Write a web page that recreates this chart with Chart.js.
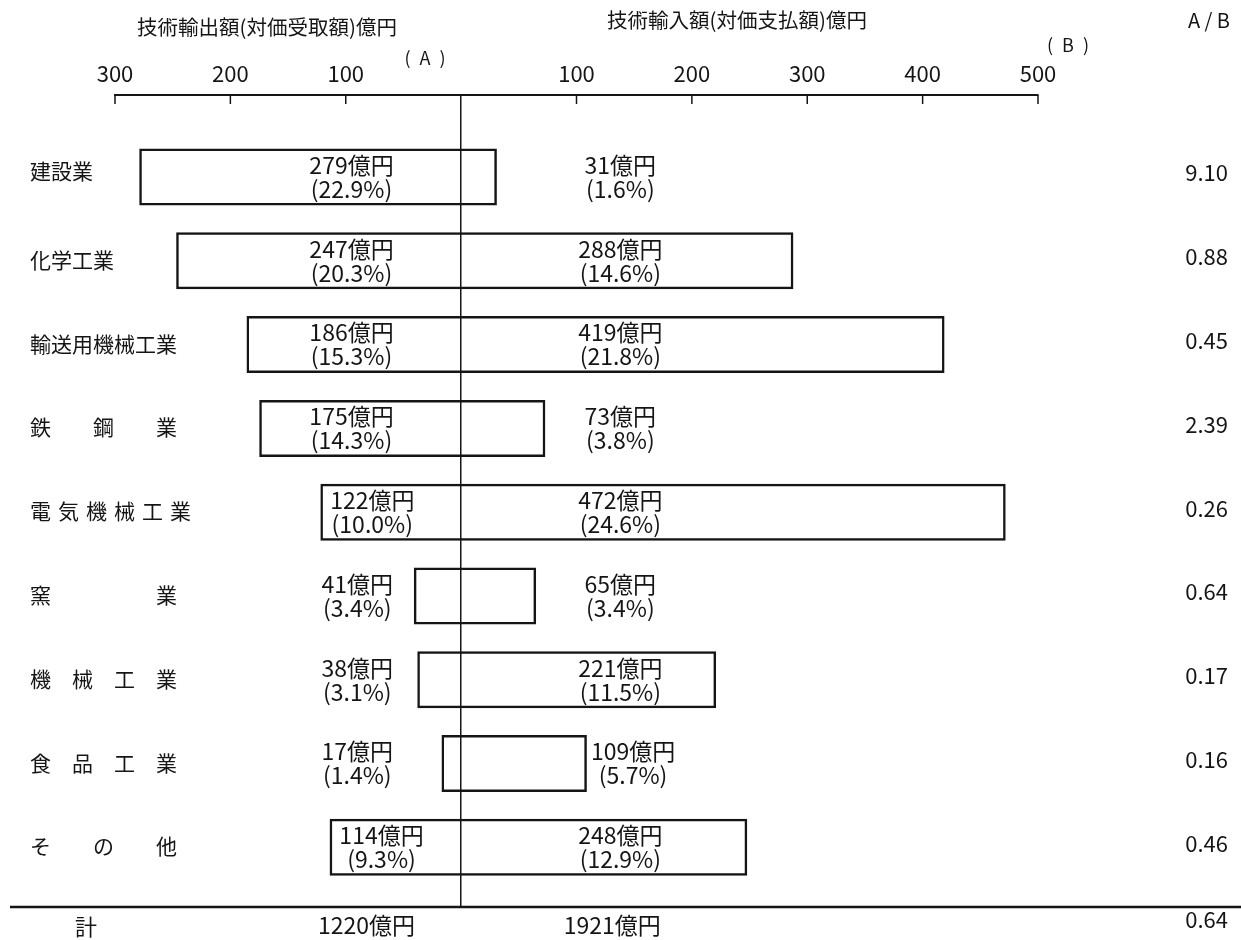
<!DOCTYPE html>
<html><head><meta charset="utf-8">
<script src="https://cdn.jsdelivr.net/npm/chart.js@4.4.0/dist/chart.umd.min.js"></script>
<style>html,body{margin:0;padding:0;background:#fff}#wrap{width:1241px;height:940px;position:relative}canvas{display:block}</style>
</head><body><div id="wrap"><canvas id="c" width="1241" height="940" style="width:1241px;height:940px"></canvas></div>
<script>
const categories = ['建設業','化学工業','輸送用機械工業','鉄　　鋼　　業','電\u2004気\u2004機\u2004械\u2004工\u2004業','窯　　　　　業','機　械　工　業','食　品　工　業','そ　　の　　他'];
const exportValues = [279, 247, 186, 175, 122, 41, 38, 17, 114];
const exportShares = ['22.9', '20.3', '15.3', '14.3', '10.0', '3.4', '3.1', '1.4', '9.3'];
const importValues = [31, 288, 419, 73, 472, 65, 221, 109, 248];
const importShares = ['1.6', '14.6', '21.8', '3.8', '24.6', '3.4', '11.5', '5.7', '12.9'];
const ratioLabels = ['9.10', '0.88', '0.45', '2.39', '0.26', '0.64', '0.17', '0.16', '0.46'];
const totalLabel = '計';
const totalExport = 1220;
const totalImport = 1921;
const totalRatio = '0.64';
const xTickValues = [-300, -200, -100, 0, 100, 200, 300, 400, 500];

const JP = '"Noto Sans CJK JP", "Noto Sans", sans-serif';
const INK = '#151515';

function leftLabelPos(a) {
  if (a >= 150) return -95;
  if (a >= 100) return -a + 45;
  return -90;
}
function rightLabelPos(b) {
  if (b >= 90 && b < 200) return b + 40;
  return 138;
}

const decor = {
  id: 'decor',
  afterDraw(chart) {
    const {ctx, scales: {x, y}, chartArea: ca} = chart;
    ctx.save();
    ctx.strokeStyle = INK;
    ctx.lineWidth = 1.5;
    x.ticks.forEach((t, i) => {
      if (t.value === 0) return;
      const px = x.getPixelForTick(i);
      ctx.beginPath(); ctx.moveTo(px, ca.top); ctx.lineTo(px, ca.top + 9); ctx.stroke();
    });
    ctx.lineWidth = 2.5;
    ctx.beginPath(); ctx.moveTo(10, ca.bottom + 1); ctx.lineTo(chart.width, ca.bottom + 1); ctx.stroke();

    ctx.fillStyle = INK;
    ctx.textBaseline = 'middle';
    ctx.textAlign = 'left';
    ctx.font = '21px ' + JP;
    categories.forEach((c, i) => {
      ctx.fillText(c, 30, y.getPixelForValue(i) - (i === 0 ? 6 : 1));
    });
    ctx.font = '23px ' + JP;
    ctx.textAlign = 'center';
    exportValues.forEach((a, i) => {
      const cy = y.getPixelForValue(i);
      const lx = x.getPixelForValue(leftLabelPos(a));
      ctx.fillText(a + '億円', lx, cy - 12);
      ctx.fillText('(' + exportShares[i] + '%)', lx, cy + 12);
      const b = importValues[i];
      const rx = x.getPixelForValue(rightLabelPos(b));
      ctx.fillText(b + '億円', rx, cy - 12);
      ctx.fillText('(' + importShares[i] + '%)', rx, cy + 12);
    });
    ctx.textAlign = 'right';
    ctx.font = '22px ' + JP;
    ratioLabels.forEach((r, i) => {
      ctx.fillText(r, 1228, y.getPixelForValue(i) - 4);
    });
    ctx.fillText(totalRatio, 1228, 920);
    ctx.font = '20px ' + JP;
    ctx.fillText('A / B', 1230, 20);
    ctx.textAlign = 'center';
    ctx.font = '22px ' + JP;
    ctx.fillText(totalLabel, 86, 927);
    ctx.font = '23px ' + JP;
    ctx.fillText(totalExport + '億円', x.getPixelForValue(-82), 925);
    ctx.fillText(totalImport + '億円', x.getPixelForValue(131), 925);
    ctx.font = '20.5px ' + JP;
    ctx.fillText('技術輸出額(対価受取額)億円', 267, 27);
    ctx.fillText('技術輸入額(対価支払額)億円', 737, 20);
    ctx.font = '18px ' + JP;
    ctx.fillText('(\u2002A\u2002)', 425, 58);
    ctx.fillText('(\u2002B\u2002)', 1068, 45);
    ctx.restore();
  }
};

new Chart(document.getElementById('c'), {
  type: 'bar',
  data: {
    datasets: [{
      data: exportValues.map((a, i) => ({x: [-a, importValues[i]], y: i})),
      backgroundColor: 'rgba(0,0,0,0)',
      borderColor: INK,
      borderWidth: 2.5,
      borderSkipped: false,
      categoryPercentage: 1,
      barPercentage: 0.68
    }]
  },
  options: {
    indexAxis: 'y',
    responsive: false,
    maintainAspectRatio: false,
    animation: false,
    devicePixelRatio: 1,
    layout: {padding: {left: 115, right: 203, top: 0, bottom: 34}},
    plugins: {legend: {display: false}, tooltip: {enabled: false}},
    scales: {
      x: {
        type: 'linear',
        position: 'top',
        min: -300, max: 500,
        afterBuildTicks: s => { s.ticks = xTickValues.map(v => ({value: v})); },
        afterFit: s => { s.height = 95; },
        ticks: {
          autoSkip: false,
          maxRotation: 0,
          padding: 8,
          color: INK,
          font: {size: 22, family: JP},
          callback: v => v === 0 ? '' : String(Math.abs(v))
        },
        grid: {
          drawTicks: false,
          color: c => (c.tick && c.tick.value === 0) ? INK : 'rgba(0,0,0,0)',
          lineWidth: 1.5
        },
        border: {display: true, color: INK, width: 2}
      },
      y: {
        type: 'linear',
        display: false,
        offset: false,
        reverse: true,
        min: -0.979, max: 8.70,
        afterBuildTicks: s => { s.ticks = categories.map((_, i) => ({value: i})); },
        grid: {display: false, offset: false}
      }
    }
  },
  plugins: [decor]
});
</script></body></html>
